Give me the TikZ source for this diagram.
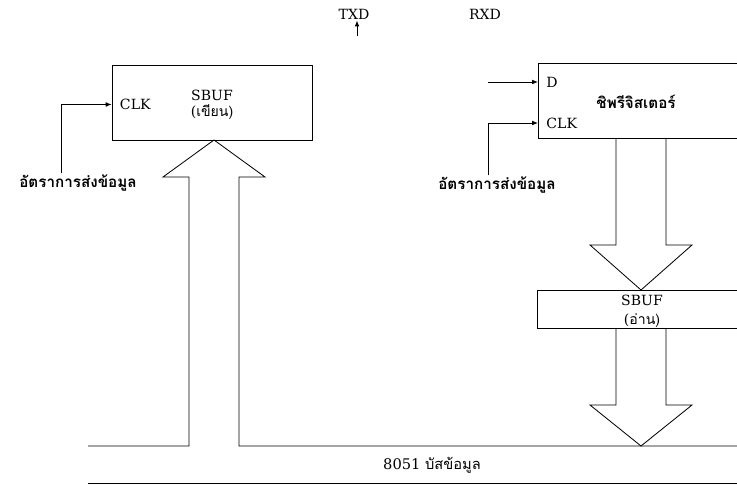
\documentclass[tikz,border=0pt]{standalone}
\usepackage{fontspec}
\setmainfont{DejaVu Serif}
\newfontfamily\thaifont[Script=Thai]{Loma}
\usetikzlibrary{arrows.meta,calc}

\begin{document}
\begin{tikzpicture}[
  x=0.03cm, y=-0.03cm,
  line join=miter,
  wire/.style={draw=black, line width=0.7pt},
  box/.style={draw=black, line width=0.7pt, inner sep=0pt},
  lbl/.style={font=\fontsize{12}{14}\selectfont, inner sep=1pt},
  thl/.style={font=\fontsize{13}{15}\selectfont\thaifont\bfseries, inner sep=1pt},
  tip/.style={-{Latex[length=5pt,width=4pt]}},
]
\def\px{0.03cm}   % one pixel of the reference
\useasboundingbox (0,0) rectangle (737,485);
\clip (0,0) rectangle (737,485);

% --- Serial pins
\node[lbl] (txd) at (354,14) {TXD};
\node[lbl] (rxd) at (485,14) {RXD};
\coordinate (txdout) at (357,36);
\draw[wire, tip] (txdout) -- (txd.south -| txdout);

% --- SBUF (write)
\node[box, minimum width=200*\px, minimum height=75*\px] (sbufw) at (212,102.5) {};
\node[lbl, align=center] (sbufwt) at (212,105) {SBUF\\(\thaifont เขียน)};
\node[lbl, anchor=west] (clkw) at ($(sbufw.west)+(7,2)$) {CLK};
\node[thl] (ratew) at (78,183) {อัตราการส่งข้อมูล};
\draw[wire, tip] (ratew.north -| 61,0) |- (sbufw.west |- clkw);

% --- Shift register (open to the right edge)
\node[box, minimum width=242*\px, minimum height=75*\px, anchor=north west] (shreg) at (538,63) {};
\node[thl] (shregt) at (636,102) {ชิพรีจิสเตอร์};
\node[lbl, anchor=west] (dpin) at ($(shreg.north west)+(7,19)$) {D};
\node[lbl, anchor=west] (clkr) at ($(shreg.north west)+(7,60)$) {CLK};
\coordinate (din) at (488,82);
\draw[wire, tip] (din) -- (din -| shreg.west);
\node[thl] (rater) at (497,185) {อัตราการส่งข้อมูล};
\draw[wire, tip] (rater.north -| din) |- (clkr.west -| shreg.west);

% --- SBUF (read)
\node[box, minimum width=243*\px, minimum height=38*\px, anchor=north west] (sbufr) at (537,290) {};
\node[lbl, align=center, font=\fontsize{12}{16}\selectfont] (sbufrt) at (642,311) {SBUF\\(\thaifont อ่าน)};

% --- Wide arrows: #1 axis x, #2 stem start y, #3 shoulder y, #4 tip y
\newcommand{\fatdown}[4]{%
  \draw[wire] (#1-25,#2) -- (#1-25,#3) -- (#1-51,#3) -- (#1,#4)
              -- (#1+51,#3) -- (#1+25,#3) -- (#1+25,#2);
}
\fatdown{641}{138}{245}{290}
\fatdown{641}{328}{405}{446}

% --- Data bus, with the wide arrow up into SBUF (write)
\draw[wire] (88,446) -- (189,446) -- (189,177) -- (163,177) -- (214,140)
            -- (265,177) -- (239,177) -- (239,446) -- (780,446);
\draw[wire] (88,483) -- (780,483);
\node[font=\fontsize{12.5}{14}\selectfont] (bus) at (432,465) {8051 \thaifont บัสข้อมูล};
\end{tikzpicture}
\end{document}
